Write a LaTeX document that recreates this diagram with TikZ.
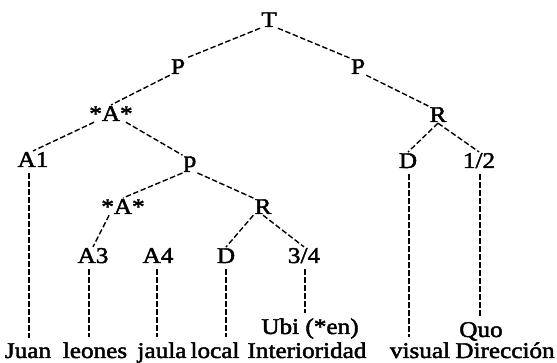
\documentclass[tikz,border=0pt]{standalone}
\usepackage{fontspec}
\newfontfamily\treefont{Liberation Serif}[FakeStretch=1.12, FakeBold=2]
\begin{document}
\begin{tikzpicture}[x=1pt,y=-1pt,
  lbl/.style={inner sep=1pt, anchor=base, font=\treefont\fontsize{22.5}{22.5}\selectfont},
  link/.style={line width=1.4pt, dash pattern=on 5.5pt off 2.5pt},
  vlink/.style={link, shorten <=5pt, shorten >=4pt}]
\useasboundingbox (0,0) rectangle (557,363);

% tree labels (placed on their baselines)
\node[lbl] (T)  at (269,27)  {T};
\node[lbl] (P1) at (178,74)  {P};
\node[lbl] (P2) at (358,74)  {P};
\node[lbl] (A)  at (111,121) {*A*};
\node[lbl] (R1) at (438,122) {R};
\node[lbl] (A1) at (33,167)  {A1};
\node[lbl] (p)  at (190,167) {p};
\node[lbl] (D1) at (408,168) {D};
\node[lbl] (H)  at (479,168) {1/2};
\node[lbl] (A2) at (123,214) {*A*};
\node[lbl] (R2) at (263,214) {R};
\node[lbl] (A3) at (93,263)  {A3};
\node[lbl] (A4) at (158,263) {A4};
\node[lbl] (D2) at (226,263) {D};
\node[lbl] (Q)  at (304,263) {3/4};

% lexical items
\node[lbl] (ubi) at (310,334) {Ubi (*en)};
\node[lbl] (quo) at (481,337) {Quo};
\node[lbl] (w1) at (28,358)  {Juan};
\node[lbl] (w2) at (95,358)  {leones};
\node[lbl] (w3) at (162,358) {jaula};
\node[lbl] (w4) at (215,358) {local};
\node[lbl] (w5) at (307,358) {Interioridad};
\node[lbl] (w6) at (420,358) {visual};
\node[lbl] (w7) at (505,358) {Dirección};

% branches
\draw[link] (T.south west) -- (P1.north east);
\draw[link] (T.south east) -- (P2.north west);
\draw[link] (P1.south west) -- (A.north);
\draw[link] (P2.south east) -- (R1.north west);
\draw[link] ([xshift=6pt]A.south west) -- (A1.north);
\draw[link] ([xshift=-8pt]A.south east) -- (p.north west);
\draw[link] (R1.south) -- (D1.north);
\draw[link] (R1.south) -- (H.north);
\draw[link] (p.south west) -- (A2.north);
\draw[link] (p.south east) -- (R2.north west);
\draw[link] ([xshift=9pt]A2.south west) -- (A3.north);
\draw[link] (R2.south west) -- (D2.north);
\draw[link] (R2.south) -- (Q.north);

% vertical links down to the words
\draw[vlink] ([xshift=-4pt]A1.south) -- ([xshift=-4pt]A1.south |- w1.north);
\draw[vlink] ([xshift=-4pt]A3.south) -- ([xshift=-4pt]A3.south |- w2.north);
\draw[vlink] ([xshift=-1pt]A4.south) -- ([xshift=-1pt]A4.south |- w3.north);
\draw[vlink] (D2.south) -- (D2.south |- w4.north);
\draw[vlink] ([xshift=1pt]Q.south) -- ([xshift=1pt]Q.south |- ubi.north);
\draw[vlink] ([xshift=1pt]D1.south) -- ([xshift=1pt]D1.south |- w6.north);
\draw[vlink] ([xshift=1pt]H.south) -- ([xshift=1pt]H.south |- quo.north);
\end{tikzpicture}
\end{document}
